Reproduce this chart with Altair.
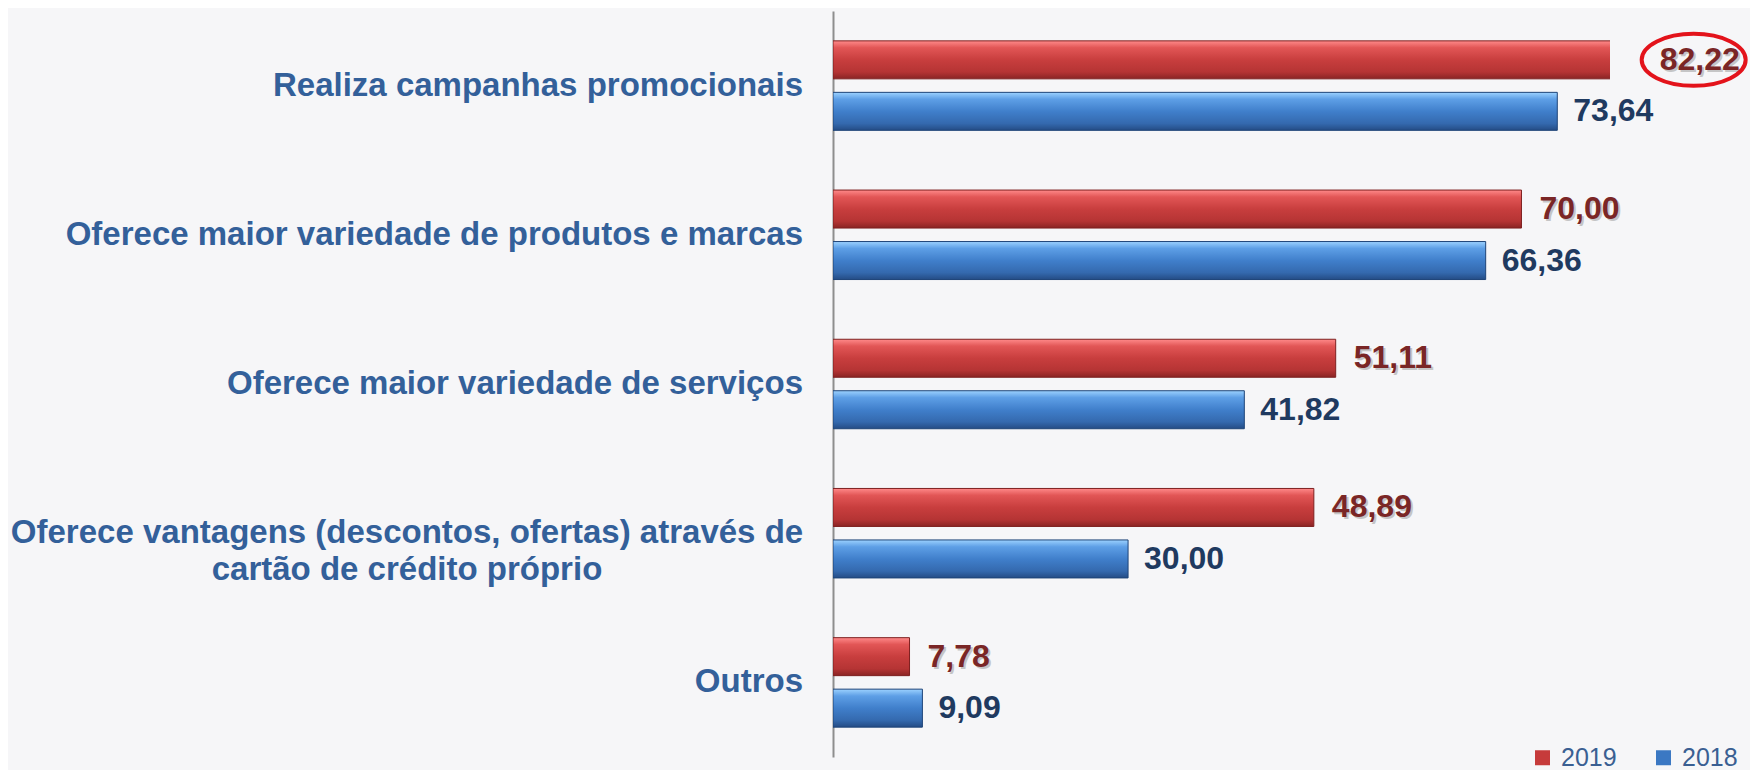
import altair as alt
import pandas as pd

categories = [
    "Realiza campanhas promocionais",
    "Oferece maior variedade de produtos e marcas",
    "Oferece maior variedade de serviços",
    "Oferece vantagens (descontos, ofertas) através de cartão de crédito próprio",
    "Outros",
]
category_lines = [
    ["Realiza campanhas promocionais"],
    ["Oferece maior variedade de produtos e marcas"],
    ["Oferece maior variedade de serviços"],
    ["Oferece vantagens (descontos, ofertas) através de", "cartão de crédito próprio"],
    ["Outros"],
]
years = ["2019", "2018"]
values_2019 = [82.22, 70.00, 51.11, 48.89, 7.78]
values_2018 = [73.64, 66.36, 41.82, 30.00, 9.09]
axis_max = 79

rows = []
for i, c in enumerate(categories):
    rows.append({"category": c, "year": "2019", "value": values_2019[i]})
    rows.append({"category": c, "year": "2018", "value": values_2018[i]})
df = pd.DataFrame(rows)
cat_df = pd.DataFrame({"category": categories, "lines": category_lines})

RED_TXT = "#7A2626"
BLUE_TXT = "#1F3A60"
CAT_TXT = "#33609A"

x = alt.X("value:Q", scale=alt.Scale(domain=[0, axis_max], nice=False, zero=True), axis=None)
y = alt.Y(
    "category:N",
    sort=categories,
    scale=alt.Scale(domain=categories, paddingInner=0, paddingOuter=0),
    axis=alt.Axis(labels=False, ticks=False, domain=True, domainColor="#8E8E8E",
                  domainWidth=2, title=None, grid=False),
)
yoff = alt.YOffset(
    "year:N",
    scale=alt.Scale(domain=years, paddingInner=0.262, paddingOuter=0.58),
)

base = alt.Chart(df).encode(x=x, y=y, yOffset=yoff)

red_grad = alt.LinearGradient(
    gradient="linear", x1=0, x2=0, y1=0, y2=1,
    stops=[
        alt.GradientStop(color="#FF8A8A", offset=0),
        alt.GradientStop(color="#E25656", offset=0.18),
        alt.GradientStop(color="#C83E3E", offset=0.5),
        alt.GradientStop(color="#B53434", offset=0.82),
        alt.GradientStop(color="#8A2424", offset=1),
    ],
)
blue_grad = alt.LinearGradient(
    gradient="linear", x1=0, x2=0, y1=0, y2=1,
    stops=[
        alt.GradientStop(color="#9CD2FF", offset=0),
        alt.GradientStop(color="#5E9FE6", offset=0.18),
        alt.GradientStop(color="#407FCB", offset=0.5),
        alt.GradientStop(color="#3469AE", offset=0.82),
        alt.GradientStop(color="#244C85", offset=1),
    ],
)

bars_2019 = base.transform_filter("datum.year == '2019'").mark_bar(
    color=red_grad, stroke="#7E2020", strokeWidth=1, clip=True
)
bars_2018 = base.transform_filter("datum.year == '2018'").mark_bar(
    color=blue_grad, stroke="#1E4478", strokeWidth=1, clip=True
)

label_expr = "replace(format(datum.value, '.2f'), '.', ',')"
lbl_base = base.transform_calculate(label=label_expr)

shadow_2019 = lbl_base.transform_filter("datum.year == '2019'").mark_text(
    align="left", baseline="middle", dx=20, dy=2, font="Liberation Sans", fontWeight="bold",
    fontSize=32, color="#8A8A8A", opacity=0.45
).encode(text="label:N")
text_2019 = lbl_base.transform_filter("datum.year == '2019'").mark_text(
    align="left", baseline="middle", dx=18, font="Liberation Sans", fontWeight="bold",
    fontSize=32, color=RED_TXT
).encode(text="label:N")
text_2018 = lbl_base.transform_filter("datum.year == '2018'").mark_text(
    align="left", baseline="middle", dx=16, font="Liberation Sans", fontWeight="bold",
    fontSize=32, color=BLUE_TXT
).encode(text="label:N")

ellipse_path = "M 0 0 A 1 0.5 0 1 0 2 0 A 1 0.5 0 1 0 0 0 Z"
ellipse = base.transform_joinaggregate(maxv="max(value)").transform_filter(
    "datum.value == datum.maxv"
).mark_point(shape=ellipse_path, size=10816, filled=False, stroke="#E3131B",
             strokeWidth=4, opacity=1)

legend_layer = base.mark_square(opacity=0).encode(
    color=alt.Color(
        "year:N",
        scale=alt.Scale(domain=years, range=["#C63B3B", "#3B78C3"]),
        legend=alt.Legend(
            orient="none", legendX=697, legendY=734, direction="horizontal",
            title=None, symbolType="square", symbolSize=225, symbolOpacity=1,
            symbolStrokeWidth=0, labelFontSize=25, labelColor="#3A5F92",
            labelFont="Liberation Sans", labelOffset=6, columnPadding=34, padding=0,
        ),
    )
)

cat_single = alt.Chart(cat_df).transform_filter("length(datum.lines) == 1").mark_text(
    align="right", baseline="middle", dx=-30, font="Liberation Sans", fontWeight="bold",
    fontSize=33, color=CAT_TXT
).encode(x=alt.value(0), y=y, text="lines")
cat_multi = alt.Chart(cat_df).transform_filter("length(datum.lines) > 1").mark_text(
    align="center", baseline="middle", dx=-426, font="Liberation Sans", fontWeight="bold",
    fontSize=33, lineHeight=37, color=CAT_TXT
).encode(x=alt.value(0), y=y, text="lines")

chart = alt.layer(
    bars_2019, bars_2018, shadow_2019, text_2019, text_2018, ellipse, legend_layer,
    cat_single, cat_multi,
).properties(
    width=777, height=746,
    autosize=alt.AutoSizeParams(type="none"),
    padding={"left": 825, "top": 3, "right": 140, "bottom": 13},
    background="#F6F6F8",
).configure_view(stroke=None)

chart.save("out.html", embed_options={"renderer": "svg", "actions": False})
